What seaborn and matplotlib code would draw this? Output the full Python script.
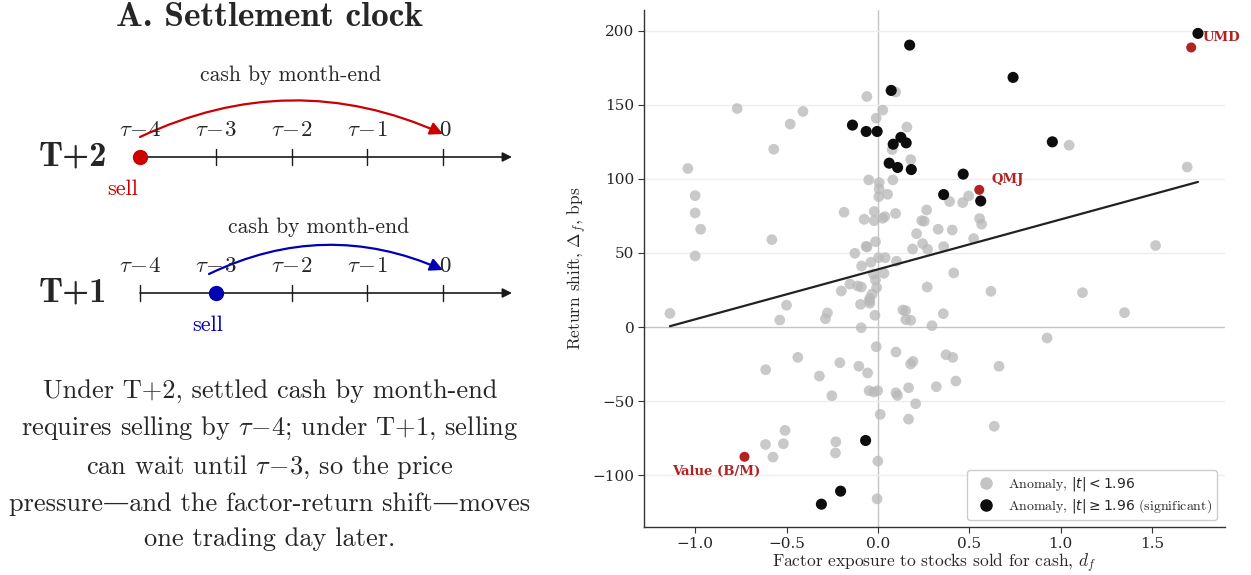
import numpy as np
import pandas as pd
import matplotlib
matplotlib.use("Agg")
import matplotlib.pyplot as plt
from matplotlib.patches import FancyArrowPatch
from matplotlib.font_manager import FontProperties
from matplotlib.lines import Line2D
import seaborn as sns

# ---- anomaly portfolios: exposure d_f and return shift (bps) ----
insig_x = [-0.77, -0.41, -0.48, -0.57, -1.04, -1.00, -1.00, -0.97, -1.00, -0.58,
           -0.06, 0.097, 0.027, -0.009, 0.159, 0.078, 0.18, 0.082, -0.05, 0.007,
           0.007, 0.005, 0.053, -0.185, -0.02, -0.075, -0.02, 0.026, 0.038, 0.097,
           0.267, 0.24, 0.254, 0.33, 0.212, 0.245, 0.272, 0.19, -0.013, -0.064,
           -0.06, -0.126, 0.004, 0.04, -0.038, 0.102, -0.089, 0.033, -0.024, -0.013,
           -0.153, -0.11, -0.09, -0.007, -0.2, -0.031, 0.27, -0.044, 1.047, 1.693,
           0.393, 0.464, 0.497, 0.407, 0.557, 0.568, 0.524, 0.36, 1.52, 0.415,
           0.619, 1.12, 1.35, 0.358, 0.137, 0.152, 0.153, 0.18, 0.296, 0.926,
           0.373, 0.41, 0.192, 0.179, 0.663, 0.427, 0.32, 0.168, 0.207, 0.168,
           0.637, -1.138, -0.50, -0.537, -0.276, -0.287, -0.095, -0.047, -0.044, -0.016,
           -0.091, -0.009, 0.099, -0.438, -0.614, -0.208, -0.104, -0.056, -0.32, -0.252,
           -0.048, -0.022, -0.001, 0.099, 0.107, 0.013, -0.508, -0.615, -0.517, -0.574,
           -0.23, -0.232, 0.0, -0.004]
insig_y = [147.5, 145.5, 137, 120, 107, 88.7, 77, 66, 48, 59,
           155.6, 158.6, 146.4, 141, 135, 119.8, 113, 99.3, 99.3, 97.5,
           93.2, 88.0, 89.6, 77.5, 78, 72.7, 71.8, 73.4, 74.5, 76.6,
           79, 71.8, 71.4, 66, 63, 56.3, 52.5, 52.7, 57.6, 54.5,
           54.0, 49.8, 46.8, 46.8, 43.7, 44.4, 41.2, 36.3, 35.8, 31.8,
           29, 27.7, 27.0, 26.6, 24.3, 22.3, 27, 19.4, 122.7, 108,
           84.7, 84, 88.5, 65.5, 73.2, 69.4, 59.7, 54.3, 55, 36.5,
           24.1, 23.2, 9.7, 9, 11.5, 11, 5, 4.5, 0.9, -7.4,
           -18.7, -20.5, -23.2, -25, -26.5, -36.5, -40.3, -41, -51.8, -62.2,
           -67, 9.2, 14.7, 4.7, 9.5, 5.6, 15.3, 17.6, 16.1, 7.9,
           -0.5, -13.3, -16.9, -20.5, -28.8, -24.1, -26.5, -31, -33.1, -46.4,
           -43, -43.9, -43, -44.4, -46.2, -59, -69.8, -79.3, -78.8, -87.8,
           -77.5, -85, -90.5, -116]

sig_x = [0.174, 0.073, -0.139, -0.064, -0.004, 0.126, 0.084, 0.155, 0.062, 0.108,
         0.183, 0.74, 1.752, 0.955, 0.467, 0.36, 0.563, -0.067, -0.204, -0.309]
sig_y = [190.3, 159.7, 136.3, 132, 132, 128, 123.4, 124.3, 110.6, 107.7,
         106.3, 168.5, 198.2, 125, 103.2, 89.4, 85.1, -76.6, -110.8, -119.6]

# named factors
factor_names = ["UMD", "QMJ", "Value (B/M)"]
factor_x = [1.715, 0.555, -0.73]
factor_y = [188.7, 92.6, -87.6]
label_offsets = [(11, 10), (12, 10), (-28, -15)]   # pixels
label_ha = ["left", "left", "center"]

# cross-sectional fit
fit_intercept = 38.9
fit_slope = 33.7

# settlement timeline
day_labels = [r"$\tau\!-\!4$", r"$\tau\!-\!3$", r"$\tau\!-\!2$", r"$\tau\!-\!1$", r"$0$"]

sns.set_theme(style="white")
plt.rcParams["mathtext.fontset"] = "cm"
plt.rcParams["axes.unicode_minus"] = True

W, H = 1251, 575
fig = plt.figure(figsize=(W / 100, H / 100), dpi=100)

# ================= left panel: settlement clock =================
axl = fig.add_axes([0, 0, 540 / W, 1])
axl.set_xlim(0, 540)
axl.set_ylim(H, 0)
axl.axis("off")

RM = ["cmr10", "DejaVu Serif"]
BF = ["cmb10", "DejaVu Serif"]
red = "#cc0000"
blue = "#0000b4"

axl.text(270, 17, "A. Settlement clock", family=BF, fontsize=25.5,
         ha="center", va="center")

x0, dx = 140, 75.75
ticks_x = [x0 + dx * i for i in range(len(day_labels))]


def timeline(yline, label, sell_idx, color, sell_dx, arc_start, text_xy):
    # axis with arrow
    axl.add_patch(FancyArrowPatch((x0, yline), (512, yline), arrowstyle="-|>",
                                  mutation_scale=14, color="#1a1a1a", lw=1.2,
                                  shrinkA=0, shrinkB=0))
    for i, tx in enumerate(ticks_x):
        if i != sell_idx:
            axl.plot([tx, tx], [yline - 8, yline + 8], color="#1a1a1a", lw=1.0)
        axl.text(tx + (2 if i == 4 else 0), yline - 27, day_labels[i],
                 fontsize=16.5, ha="center", va="center", family=RM)
    axl.plot([ticks_x[sell_idx]], [yline], "o", ms=10, color=color, zorder=5)
    axl.text(ticks_x[sell_idx] + sell_dx, yline + 32, "sell", family=RM,
             fontsize=16, color=color, ha="center", va="center")
    axl.text(73, yline, label, family=BF, fontsize=25, ha="center", va="center")
    # settlement arc
    sx, sy = arc_start
    axl.add_patch(FancyArrowPatch((sx, sy), (ticks_x[4], yline - 23),
                                  connectionstyle="arc3,rad=-0.23",
                                  arrowstyle="-|>", mutation_scale=19,
                                  color=color, lw=1.6, shrinkA=0, shrinkB=0))
    axl.text(text_xy[0], text_xy[1], "cash by month-end", family=RM,
             fontsize=15.5, ha="center", va="center")


timeline(157, "T+2", 0, red, -17, (140, 137), (291, 75))
timeline(293, "T+1", 1, blue, -8, (209, 274), (319, 227))

para = ("Under T+2, settled cash by month-end\n"
        r"requires selling by $\tau\!-\!4$; under T+1, selling" "\n"
        r"can wait until $\tau\!-\!3$, so the price" "\n"
        "pressure\u2014and the factor-return shift\u2014moves\n"
        "one trading day later.")
axl.text(270, 465, para, family=RM, fontsize=19, ha="center", va="center",
         linespacing=1.58)

# ================= right panel: scatter =================
ax = fig.add_axes([644 / W, 1 - 527 / H, (1225 - 644) / W, (527 - 10) / H])

df = pd.DataFrame({
    "d": insig_x + sig_x,
    "delta": insig_y + sig_y,
    "group": ["insig"] * len(insig_x) + ["sig"] * len(sig_x),
})

ax.axhline(0, color="#c4c4c4", lw=1.0, zorder=0)
ax.axvline(0, color="#c4c4c4", lw=1.0, zorder=0)
for gy in [-100, -50, 50, 100, 150, 200]:
    ax.axhline(gy, color="#eeeeee", lw=1.0, zorder=0)

sns.scatterplot(data=df[df.group == "insig"], x="d", y="delta", color="#b8b8b8",
                alpha=0.75, s=60, edgecolor="none", ax=ax, zorder=2, legend=False)
sns.scatterplot(data=df[df.group == "sig"], x="d", y="delta", color="#0d0d0d",
                s=64, edgecolor="none", ax=ax, zorder=3, legend=False)

xx = np.array([min(df.d), max(df.d)])
sns.lineplot(x=xx, y=fit_intercept + fit_slope * xx, color="#222222", lw=1.6,
             ax=ax, zorder=4)

sns.scatterplot(x=factor_x, y=factor_y, color="#b22222", s=52, edgecolor="none",
                ax=ax, zorder=5, legend=False)
for name, fx, fy, off, ha in zip(factor_names, factor_x, factor_y, label_offsets, label_ha):
    ax.annotate(name, (fx, fy), xytext=off, textcoords="offset pixels",
                ha=ha, va="center", color="#b22222", fontsize=9.5,
                fontweight="bold", family="DejaVu Serif")

ax.set_xlim(-1.28, 1.90)
ax.set_ylim(-135, 214)
ax.set_xticks([-1.0, -0.5, 0.0, 0.5, 1.0, 1.5])
ax.set_yticks([-100, -50, 0, 50, 100, 150, 200])
ax.set_xticklabels(["\u22121.0", "\u22120.5", "0.0", "0.5", "1.0", "1.5"])
ax.set_yticklabels(["\u2212100", "\u221250", "0", "50", "100", "150", "200"])
for lab in ax.get_xticklabels() + ax.get_yticklabels():
    lab.set_family("DejaVu Serif")
    lab.set_fontsize(11)
ax.tick_params(axis="both", direction="out", length=4, width=0.8,
               color="#333333", bottom=True, left=True, pad=3)
for side in ["top", "right"]:
    ax.spines[side].set_visible(False)
for side in ["left", "bottom"]:
    ax.spines[side].set_color("#333333")
    ax.spines[side].set_linewidth(1.0)

ax.set_xlabel(r"Factor exposure to stocks sold for cash, $d_f$", family=RM,
              fontsize=12.5, labelpad=1)
ax.set_ylabel(r"Return shift, $\Delta_f$, bps", family=RM, fontsize=12.5,
              labelpad=2)

handles = [
    Line2D([], [], ls="none", marker="o", ms=8, color="#c4c4c4"),
    Line2D([], [], ls="none", marker="o", ms=8, color="#0d0d0d"),
]
labels = [r"Anomaly, $|t| < 1.96$", r"Anomaly, $|t| \geq 1.96$ (significant)"]
lp = FontProperties(family=RM, size=10, math_fontfamily="dejavusans")
ax.legend(handles, labels, loc="lower right", prop=lp, frameon=True,
          edgecolor="#cccccc", framealpha=1.0, handletextpad=0.6,
          borderpad=0.35, labelspacing=0.3, borderaxespad=0.3,
          bbox_to_anchor=(0.993, 0.005))

fig.savefig("out.png", dpi=100)
